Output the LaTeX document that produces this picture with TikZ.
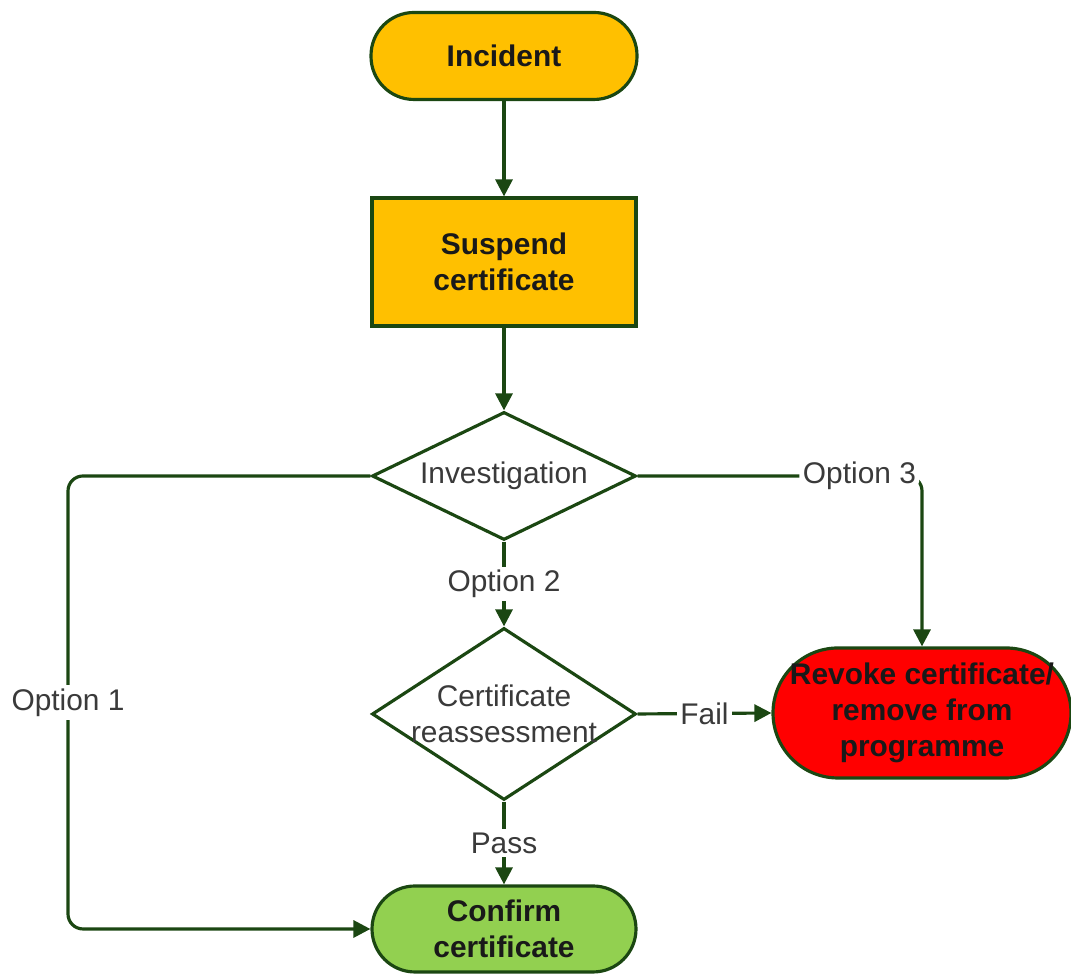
\documentclass[tikz,border=0pt]{standalone}
\usepackage{fontspec}
\setmainfont{Liberation Sans}
\usepackage{tikz}
\usetikzlibrary{positioning,arrows.meta,shapes.geometric}
\usepackage{xcolor}
\definecolor{amber}{HTML}{FFC000}
\definecolor{leafgreen}{HTML}{92D050}
\definecolor{alarmred}{HTML}{FF0000}
\definecolor{linegreen}{HTML}{1B4712}
\definecolor{labelgray}{HTML}{3A3A3A}

\begin{document}
\begin{tikzpicture}[
    every node/.style={font=\fontsize{8.5}{10.2}\selectfont},
    terminal/.style={draw=linegreen, line width=0.9pt, rounded corners=0.43cm, minimum width=2.66cm, minimum height=0.87cm, align=center, inner sep=0pt, text=black!90, font=\fontsize{8.5}{10.2}\selectfont\bfseries},
    process/.style={draw=linegreen, line width=0.9pt, fill=amber, minimum width=2.64cm, minimum height=1.28cm, align=center, inner sep=0pt, text=black!90, font=\fontsize{8.5}{10.2}\selectfont\bfseries},
    decision/.style={diamond, draw=linegreen, line width=0.9pt, fill=white, align=center, inner sep=0pt, inner xsep=-0.45cm, minimum width=2.64cm, text=labelgray},
    edge/.style={-{Triangle[length=0.17cm, width=0.17cm]}, line width=0.9pt, draw=linegreen},
    lbl/.style={fill=white, inner sep=1pt, text=labelgray}
]
    \useasboundingbox (0,0) rectangle (10.71,9.74);

    % Nodi principali
    \node[terminal, fill=amber] (incident) at (5.04, 9.18) {Incident};
    \node[process] (suspend) at (5.04, 7.12) {Suspend\\certificate};
    \node[decision, minimum height=1.28cm, aspect=2.06] (invest) at (5.04, 4.98) {Investigation};
    \node[decision, minimum height=1.72cm, aspect=1.53] (reassess) at (5.04, 2.60) {Certificate\\reassessment};
    \node[terminal, fill=alarmred, minimum width=2.98cm, minimum height=1.30cm, rounded corners=0.65cm] (revoke) at (9.22, 2.61) {Revoke certificate/\\remove from\\programme};
    \node[terminal, fill=leafgreen, minimum width=2.64cm, minimum height=0.86cm] (confirm) at (5.04, 0.45) {Confirm\\certificate};

    % Punto di svolta per Option 1
    \coordinate (leftturn) at (0.68, 4.98);

    % Connessioni verticali
    \draw[edge] (incident) -- (suspend);
    \draw[edge] (suspend) -- (invest);
    \draw[edge] (invest) -- node[lbl] {Option 2} (reassess);
    \draw[edge] (reassess) -- node[lbl] {Pass} (confirm);

    % Connessioni laterali
    \draw[edge, rounded corners=0.15cm] (invest.west) -- (leftturn) |- node[lbl, pos=0.25] {Option 1} (confirm.west);
    \draw[edge, rounded corners=0.15cm] (invest.east) -| node[lbl, pos=0.39] {Option 3} (revoke.north);
    \draw[edge] (reassess.east) -- node[lbl] {Fail} (revoke.west);

\end{tikzpicture}
\end{document}
